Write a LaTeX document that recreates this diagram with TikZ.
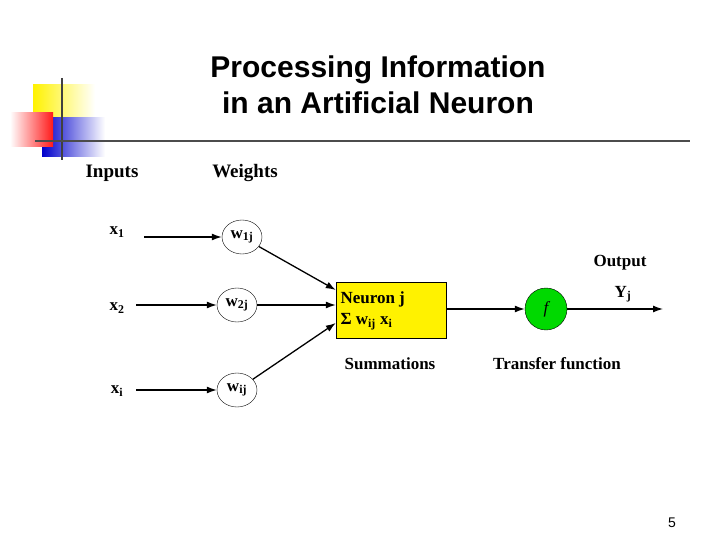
\documentclass[tikz,border=0pt]{standalone}
\usepackage{fontspec}
\setmainfont{Liberation Serif}
\newfontfamily\titlef{Liberation Sans}
\usetikzlibrary{shapes.geometric,arrows.meta}
\begin{document}
\begin{tikzpicture}[x=1pt,y=-1pt,
  lbl/.style={font=\fontsize{17}{19}\selectfont\bfseries},
  wt/.style={draw,ellipse,minimum width=40,minimum height=34,inner sep=0,font=\fontsize{17}{19}\selectfont\bfseries},
  arr/.style={-{Latex[length=10pt,width=7pt]},line width=1.3pt}]
\useasboundingbox (0,0) rectangle (720,540);
% decoration
\shade[left color=yellow!90!orange, right color=white] (33,85) rectangle (95,118);
\shade[left color=blue!80!black, right color=white] (42,118) rectangle (105,157);
\shade[left color=white, right color=red!90] (10,113) rectangle (53,147);
\draw[line width=2pt, black!75] (62,78) -- (62,160);
\draw[line width=2pt, black!70] (35,141) -- (690,141);
% titles
\node[font=\titlef\fontsize{30}{36}\selectfont\bfseries, align=center] (title) at (378,85) {Processing Information\\in an Artificial Neuron};
\node[lbl,font=\fontsize{19}{21}\selectfont\bfseries] (inp) at (112,173) {Inputs};
\node[lbl,font=\fontsize{19}{21}\selectfont\bfseries] (wts) at (245,173) {Weights};
% inputs
\node[lbl] (x1) at (117,232) {x$_{\mathbf 1}$};
\node[lbl] (x2) at (117,308) {x$_{\mathbf 2}$};
\node[lbl] (xi) at (117,391) {x$_{\mathbf i}$};
\node[wt] (w1) at (242,237) {w$_{\mathbf{1j}}$};
\node[wt] (w2) at (237,305) {w$_{\mathbf{2j}}$};
\node[wt] (wi) at (237,390) {w$_{\mathbf{ij}}$};
\coordinate (s1) at (144,237);
\coordinate (s2) at (136,305);
\coordinate (s3) at (136,390);
\draw[arr] (s1) -- (w1);
\draw[arr] (s2) -- (w2);
\draw[arr] (s3) -- (wi);
% neuron
\node[draw, fill=yellow, minimum width=110, minimum height=56, inner sep=0] (box) at (391,310) {};
\node[lbl, anchor=west, align=left] (btxt) at (337,311) {Neuron j\\[2pt]Σ w$_{\mathbf{ij}}$ x$_{\mathbf i}$};
\draw[arr] (w1) -- (box.north west |- 0,290);
\draw[arr] (w2) -- (box.west |- w2);
\draw[arr] (wi) -- (box.north west |- 0,323);
\node[draw, circle, fill=green!85!black, minimum size=42, inner sep=0] (f) at (546,309) {\fontsize{17}{19}\selectfont\itshape f};
\draw[arr] (box.east |- f) -- (f);
\coordinate (out) at (663,309);
\draw[arr] (f) -- (out);
\node[lbl] (outl) at (620,263) {Output};
\node[lbl] (yj) at (623,294) {Y$_{\mathbf j}$};
\node[lbl] (sum) at (390,364) {Summations};
\node[lbl] (tf) at (557,364) {Transfer function};
\node[font=\titlef\fontsize{14}{16}\selectfont] (pg) at (672,523) {5};
\end{tikzpicture}
\end{document}
